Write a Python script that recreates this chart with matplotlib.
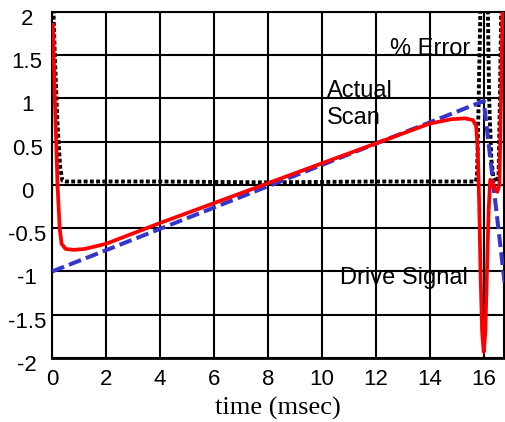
import numpy as np
import matplotlib
matplotlib.use('Agg')
from matplotlib import pyplot as plt
from matplotlib.transforms import offset_copy

# Drive signal (blue dashed): points
drive_t = [0.0, 16.0, 16.8]
drive_v = [-1.0, 0.97, -1.2]

# Actual scan (red)
scan_t = [0.03, 0.1, 0.2, 0.28, 0.35, 0.5, 0.8, 1.2, 2.0, 4.0, 6.0, 8.0, 10.0, 12.0,
          14.0, 14.8, 15.3, 15.6, 15.72, 15.78, 15.83, 15.88, 15.94, 16.0, 16.06,
          16.12, 16.18, 16.24, 16.3, 16.4, 16.5, 16.58, 16.64, 16.7]
scan_v = [1.85, 1.0, 0.0, -0.5, -0.68, -0.74, -0.75, -0.74, -0.68, -0.44, -0.21, 0.02,
          0.25, 0.48, 0.71, 0.76, 0.77, 0.75, 0.68, 0.4, -0.2, -1.0, -1.7, -1.93,
          -1.7, -1.0, -0.3, 0.06, 0.04, -0.03, -0.08, 0.0, 1.0, 2.1]

# % Error (black dotted)
err_t = [0.04, 0.1, 0.2, 0.3, 0.38, 0.5, 4.0, 8.0, 12.0, 15.7, 15.75, 15.8, 15.88,
         16.15, 16.2, 16.28, 16.36, 16.45, 16.55, 16.6, 16.65]
err_v = [2.1, 1.5, 0.7, 0.2, 0.05, 0.04, 0.04, 0.03, 0.04, 0.04, 0.1, 0.8, 2.1,
         2.1, 1.0, 0.3, 0.08, 0.03, 0.1, 1.0, 2.1]

xticks = [0, 2, 4, 6, 8, 10, 12, 14, 16]
yticks = [-2, -1.5, -1, -0.5, 0, 0.5, 1, 1.5, 2]
ytick_labels = ['-2', '-1.5', '-1', '-0.5', '0', '0.5', '1', '1.5', '2']

plt.rcParams['font.family'] = ['Liberation Sans', 'DejaVu Sans']

fig = plt.figure(figsize=(5.06, 4.22), dpi=100)
ax = fig.add_axes([0.103, 0.1517, 0.893, 0.82])

ax.plot(err_t, err_v, color='black', lw=2.8, linestyle=(0, (1, 0.6)),
        dash_capstyle='butt', zorder=3)
ax.plot(drive_t, drive_v, color='#3535cc', lw=2.9, linestyle=(0, (3.2, 1.3)), zorder=4)
ax.plot(scan_t, scan_v, color='#ff0000', lw=2.7, zorder=5)

ax.set_xlim(0, 16.75)
ax.set_ylim(-2, 2)
ax.set_xticks(xticks)
ax.set_yticks(yticks)
ax.set_yticklabels(ytick_labels)
ax.grid(True, color='black', lw=1.5)
ax.set_axisbelow(True)
for s in ax.spines.values():
    s.set_linewidth(1.5)
ax.spines['bottom'].set_linewidth(2.0)

ax.tick_params(axis='both', length=0, labelsize=16)
ax.tick_params(axis='x', pad=8)
ax.tick_params(axis='y', pad=18)
for lab in ax.get_yticklabels():
    lab.set_horizontalalignment('center')
    lab.set_transform(offset_copy(lab.get_transform(), fig=fig, x=0, y=-5, units='dots'))

ax.set_xlabel('time (msec)', family='Liberation Serif', fontsize=19, labelpad=5)

ax.text(12.52, 1.57, '% Error', fontsize=17, va='center', ha='left')
ax.text(10.18, 1.09, 'Actual', fontsize=17, va='center', ha='left')
ax.text(10.18, 0.77, 'Scan', fontsize=17, va='center', ha='left')
ax.text(10.67, -1.075, 'Drive Signal', fontsize=17, va='center', ha='left')

fig.savefig('out.png', dpi=100)
